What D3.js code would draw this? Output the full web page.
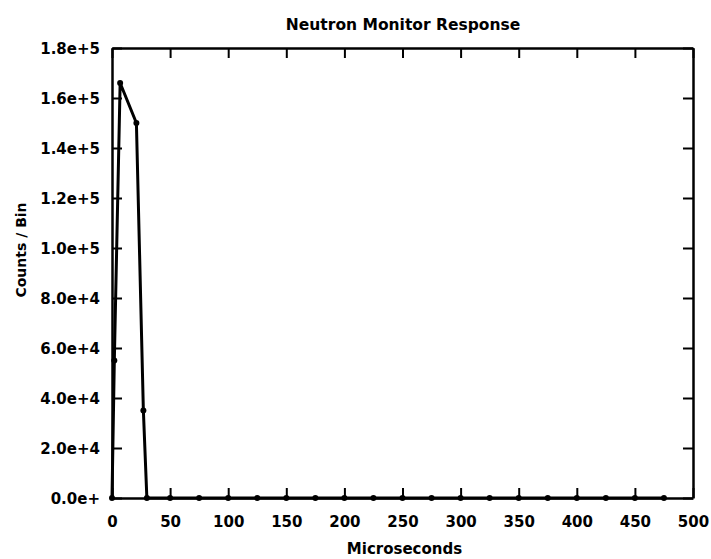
<!DOCTYPE html>
<html>
<head>
<meta charset="utf-8">
<script src="https://cdn.jsdelivr.net/npm/d3@7"></script>
<style>
  html, body { margin: 0; padding: 0; background: #fff; }
  svg text { font-family: "DejaVu Sans", sans-serif; font-weight: bold; fill: #000; }
</style>
</head>
<body>
<svg id="chart" width="711" height="559"></svg>
<script>
// Neutron monitor response: counts per bin versus time (microseconds)
const timeUs = [0, 2, 7, 21, 27, 30, 50, 75, 100, 125, 150, 175, 200, 225, 250, 275, 300, 325, 350, 375, 400, 425, 450, 475];
const counts = [0, 55000, 166000, 150000, 35000, 0, 0, 0, 0, 0, 0, 0, 0, 0, 0, 0, 0, 0, 0, 0, 0, 0, 0, 0];
const xTicks = [0, 50, 100, 150, 200, 250, 300, 350, 400, 450, 500];
const yTicks = [0, 20000, 40000, 60000, 80000, 100000, 120000, 140000, 160000, 180000];
const yTickLabels = ["0.0e+", "2.0e+4", "4.0e+4", "6.0e+4", "8.0e+4", "1.0e+5", "1.2e+5", "1.4e+5", "1.6e+5", "1.8e+5"];

const svg = d3.select("#chart");
const m = { left: 112, right: 18, top: 48, bottom: 61 };
const W = 711, H = 559;
const iw = W - m.left - m.right, ih = H - m.top - m.bottom;

const x = d3.scaleLinear().domain([0, 500]).range([m.left, m.left + iw]);
const y = d3.scaleLinear().domain([0, 180000]).range([m.top + ih, m.top]);

const tickLen = 10;

// bottom axis: inward ticks, labels below
const axBottom = svg.append("g").attr("transform", `translate(0,${m.top + ih})`)
  .call(d3.axisBottom(x).tickValues(xTicks).tickSizeInner(-tickLen).tickSizeOuter(0).tickPadding(18));
// top axis: inward ticks, no labels
const axTop = svg.append("g").attr("transform", `translate(0,${m.top})`)
  .call(d3.axisTop(x).tickValues(xTicks).tickSizeInner(-tickLen).tickSizeOuter(0).tickFormat(""));
// left axis: inward ticks, labels at left
const axLeft = svg.append("g").attr("transform", `translate(${m.left},0)`)
  .call(d3.axisLeft(y).tickValues(yTicks).tickSizeInner(-tickLen).tickSizeOuter(0).tickPadding(12)
    .tickFormat((d, i) => yTickLabels[i]));
// right axis: inward ticks
const axRight = svg.append("g").attr("transform", `translate(${m.left + iw},0)`)
  .call(d3.axisRight(y).tickValues(yTicks).tickSizeInner(-tickLen).tickSizeOuter(0).tickFormat(""));

[axBottom, axTop, axLeft, axRight].forEach(g => {
  g.select(".domain").attr("stroke", "#000").attr("stroke-width", 2.5);
  g.selectAll(".tick line").attr("stroke", "#000").attr("stroke-width", 2);
  g.selectAll(".tick text").style("font-size", "15px").style("font-family", "DejaVu Sans").style("font-weight", "bold").attr("fill", "#000");
});
axLeft.selectAll(".tick text").attr("dy", "0.35em");

// data line
const line = d3.line().x((d, i) => x(timeUs[i])).y((d, i) => y(counts[i]));
svg.append("path")
  .datum(counts)
  .attr("d", line)
  .attr("fill", "none")
  .attr("stroke", "#000")
  .attr("stroke-width", 3)
  .attr("stroke-linejoin", "miter");

// point markers
svg.append("g").selectAll("circle")
  .data(counts)
  .join("circle")
  .attr("cx", (d, i) => x(timeUs[i]))
  .attr("cy", d => y(d))
  .attr("r", 3)
  .attr("fill", "#000");

// titles
svg.append("text")
  .attr("x", 403).attr("y", 30)
  .attr("text-anchor", "middle")
  .style("font-size", "15.5px")
  .text("Neutron Monitor Response");

svg.append("text")
  .attr("x", x(250) + 2).attr("y", 554)
  .attr("text-anchor", "middle")
  .style("font-size", "15px")
  .text("Microseconds");

svg.append("text")
  .attr("transform", "translate(26,250) rotate(-90)")
  .attr("text-anchor", "middle")
  .style("font-size", "14px")
  .text("Counts / Bin");
</script>
</body>
</html>
